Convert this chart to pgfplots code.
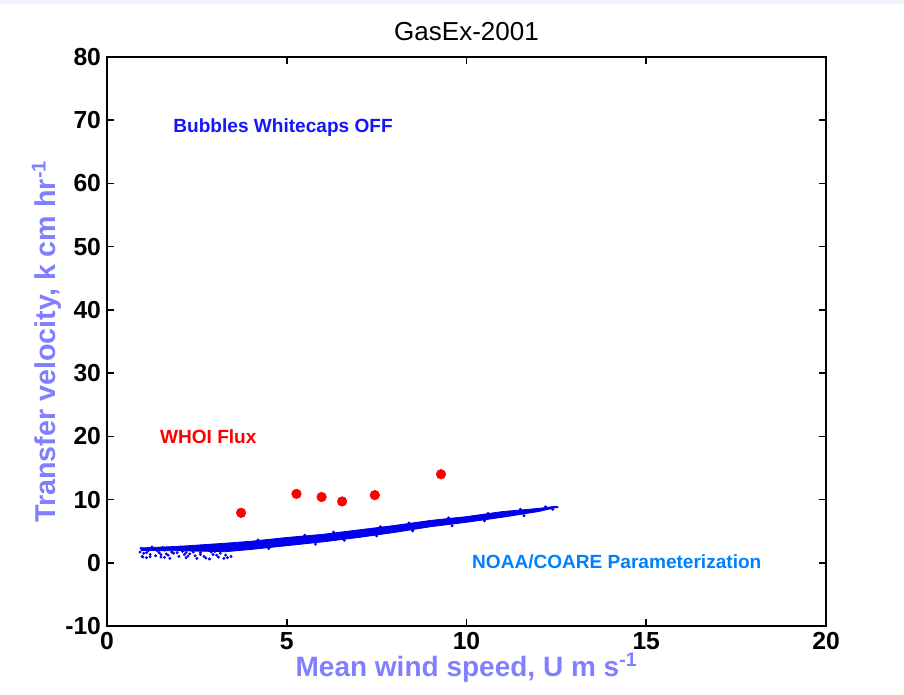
\documentclass[border=0pt]{standalone}
\usepackage{pgfplots}
\pgfplotsset{compat=1.18}
\usepackage{fontspec}
\setmainfont{Liberation Sans}
\definecolor{lablue}{RGB}{128,128,255}
\definecolor{dotblue}{RGB}{0,0,235}
\definecolor{noablue}{RGB}{0,128,255}
\definecolor{bubblue}{RGB}{20,20,255}
\definecolor{stripbg}{RGB}{237,244,252}
\begin{document}
\begin{tikzpicture}
\path[use as bounding box] (0,0) rectangle (678pt,521.25pt);
\fill[stripbg] (0,518.25pt) rectangle (678pt,521.25pt);
\begin{axis}[
  at={(80.25pt,51.75pt)}, anchor=south west,
  scale only axis, width=539.25pt, height=426.75pt,
  xmin=0, xmax=20, ymin=-10, ymax=80,
  xtick={0,5,10,15,20}, ytick={-10,0,10,...,80},
  axis line style={line width=1.4pt},
  tick style={line width=1.2pt, black},
  major tick length=5.5pt,
  tick align=inside,
  /pgf/number format/assume math mode=true,
  tick label style={font=\fontsize{18.5}{20}\selectfont\bfseries},
  xticklabel style={yshift=-1pt},
  yticklabel style={xshift=-1pt},
  title={GasEx-2001},
  title style={font=\fontsize{19.5}{21}\selectfont, yshift=3pt},
  xlabel={Mean wind speed, U m s\textsuperscript{-1}},
  ylabel={Transfer velocity, k cm hr\textsuperscript{-1}},
  label style={text=lablue},
  xlabel style={font=\fontsize{21}{23}\selectfont\bfseries, yshift=4pt},
  ylabel style={font=\fontsize{21.5}{23}\selectfont\bfseries, yshift=-4pt},
  clip=false,
]
% main NOAA/COARE band
\addplot[fill=dotblue, draw=dotblue, line width=0.6pt] coordinates {
 (0.95,2.35) (2.0,2.6) (3.3,3.1) (4,3.4) (5,4.0) (6,4.5) (7,5.2) (8,5.9) (9,6.7) (10,7.3) (11,8.1) (12,8.6) (12.5,8.95)
 (12.55,8.8) (12,8.1) (11,7.2) (10,6.4) (9,5.7) (8,4.8) (7,4.0) (6,3.3) (5,2.7) (4,2.1) (3.3,1.75) (2.0,1.9) (0.95,1.95)
} -- cycle;
% scattered points
\addplot[only marks, mark=*, mark size=0.9pt, color=dotblue] coordinates {
 (0.95,2.3) (0.98,1.0) (1.02,1.5) (1.05,2.1) (1.1,0.8) (1.15,1.9) (1.2,1.3) (1.3,2.2) (1.35,1.1) (1.45,1.6)
 (1.5,0.9) (1.6,2.0) (1.7,1.2) (1.75,0.7) (1.85,1.5) (1.9,2.2) (2.0,1.0) (2.1,1.8) (2.2,0.8) (2.3,1.4)
 (2.35,2.0) (2.45,1.1) (2.5,0.7) (2.6,1.6) (2.7,1.0) (2.8,2.1) (2.85,0.6) (2.95,1.3) (3.0,1.8) (3.1,0.9)
 (3.15,1.5) (3.25,0.7) (3.3,1.2) (3.4,2.0) (3.45,1.0) (1.25,2.5) (1.55,2.4) (2.05,2.5) (2.55,2.6) (3.05,2.7)
 (0.92,1.7) (1.4,1.9) (1.8,1.7) (2.15,1.3) (2.65,2.3) (3.2,2.4) (2.9,1.7) (2.4,1.7) (1.95,1.6) (1.65,1.4)
 (1.0,0.9) (1.2,0.95) (1.6,0.85) (2.25,1.05) (2.75,0.75) (3.35,0.8) (1.1,1.6) (1.5,1.3) (2.2,1.6) (2.6,1.3) (3.05,1.2)
 (4.2,3.6) (5.5,4.35) (6.3,4.85) (7.6,5.7) (8.4,6.3) (9.5,7.1) (10.6,7.8) (11.5,8.45) (12.2,8.85)
 (4.5,2.25) (5.8,2.95) (6.6,3.55) (7.5,4.25) (8.5,5.05) (9.6,5.85) (10.5,6.65) (11.6,7.45) (12.4,8.45)
};
% WHOI flux
\addplot[only marks, mark=*, mark size=3.6pt, color=red] coordinates {
 (3.73,7.9) (5.27,10.9) (5.97,10.4) (6.54,9.7) (7.45,10.7) (9.29,14.0)
};
\node[anchor=west, inner sep=0pt, text=bubblue, font=\fontsize{14.3}{16}\selectfont\bfseries] at (axis cs:1.84,68.9) {Bubbles Whitecaps OFF};
\node[anchor=west, inner sep=0pt, text=red, font=\fontsize{14.3}{16}\selectfont\bfseries] at (axis cs:1.47,19.9) {WHOI Flux};
\node[anchor=west, inner sep=0pt, text=noablue, font=\fontsize{14.3}{16}\selectfont\bfseries] at (axis cs:10.15,0.1) {NOAA/COARE Parameterization};
\end{axis}
\end{tikzpicture}
\end{document}
